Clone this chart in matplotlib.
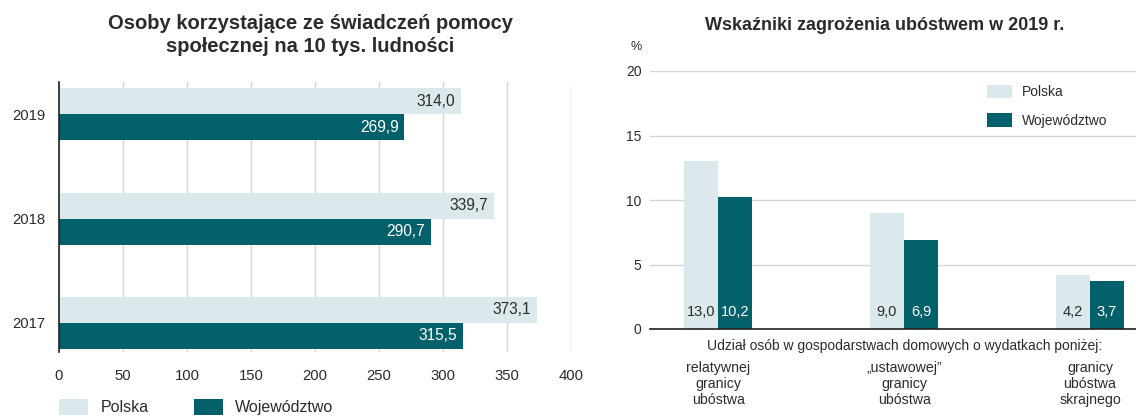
import matplotlib
matplotlib.use('Agg')
import matplotlib.pyplot as plt
from matplotlib.transforms import blended_transform_factory

plt.rcParams['font.family'] = ['Liberation Sans', 'DejaVu Sans']

# data
years = ['2017', '2018', '2019']
polska_osoby = [373.1, 339.7, 314.0]
woj_osoby = [315.5, 290.7, 269.9]

kategorie = ['relatywnej\ngranicy\nubóstwa', '„ustawowej”\ngranicy\nubóstwa', 'granicy\nubóstwa\nskrajnego']
polska_ubostwo = [13.0, 9.0, 4.2]
woj_ubostwo = [10.2, 6.9, 3.7]

c_light = '#dbe9ed'
c_dark = '#02606b'
c_grid = '#d4d4d4'
c_text = '#2b2b2b'

def fmt(v):
    return f'{v:.1f}'.replace('.', ',')

fig = plt.figure(figsize=(11.36, 4.16), dpi=100)

# left chart
ax1 = fig.add_axes([59/1136, 64/416, 512/1136, 270/416])
ypos = list(range(len(years)))
h = 0.25
b1 = ax1.barh([y + h/2 for y in ypos], polska_osoby, height=h, color=c_light, label='Polska')
b2 = ax1.barh([y - h/2 for y in ypos], woj_osoby, height=h, color=c_dark, label='Województwo')
for y, v in zip(ypos, polska_osoby):
    ax1.text(v - 4.5, y + h/2, fmt(v), ha='right', va='center', fontsize=11.2, color=c_text)
for y, v in zip(ypos, woj_osoby):
    ax1.text(v - 4.5, y - h/2, fmt(v), ha='right', va='center', fontsize=11.2, color='white')
ax1.set_xlim(0, 400)
ax1.set_ylim(-0.28, 2.31)
ax1.set_xticks(range(0, 401, 50))
ax1.set_yticks(ypos)
ax1.set_yticklabels(years)
ax1.tick_params(axis='both', length=0, labelsize=10.7, colors=c_text)
ax1.tick_params(axis='x', pad=12)
ax1.tick_params(axis='y', pad=10)
ax1.xaxis.grid(True, color=c_grid, linewidth=1)
ax1.set_axisbelow(True)
for s in ['top', 'right', 'bottom']:
    ax1.spines[s].set_visible(False)
ax1.spines['left'].set_color('#222222')
ax1.spines['left'].set_linewidth(1.2)

fig.text(310/1136, 1 - 35/416, 'Osoby korzystające ze świadczeń pomocy\nspołecznej na 10 tys. ludności',
         ha='center', va='center', fontsize=14.5, fontweight='bold', color=c_text, linespacing=1.3)

fig.legend(handles=[b1, b2], loc='upper left', bbox_to_anchor=(45/1136, 1 - 385/416), ncol=2,
           frameon=False, fontsize=11.5, handlelength=1.8, handleheight=1.1,
           handletextpad=0.8, columnspacing=2.8, labelcolor=c_text)

# right chart
ax2 = fig.add_axes([650/1136, 87/416, 486/1136, 258/416])
xpos = list(range(len(kategorie)))
w = 0.183
p1 = ax2.bar([x - w/2 for x in xpos], polska_ubostwo, width=w, color=c_light, label='Polska')
p2 = ax2.bar([x + w/2 for x in xpos], woj_ubostwo, width=w, color=c_dark, label='Województwo')
for x, v in zip(xpos, polska_ubostwo):
    ax2.text(x - w/2, 1.3, fmt(v), ha='center', va='center', fontsize=10.5, color=c_text)
for x, v in zip(xpos, woj_ubostwo):
    ax2.text(x + w/2, 1.3, fmt(v), ha='center', va='center', fontsize=10.5, color='white')
ax2.set_xlim(-0.366, 2.247)
ax2.set_ylim(0, 20)
ax2.set_yticks(range(0, 21, 5))
ax2.yaxis.grid(True, color=c_grid, linewidth=1)
ax2.set_axisbelow(True)
ax2.set_xticks([])
ax2.tick_params(axis='y', length=0, labelsize=10, colors=c_text, pad=6)
for s in ['top', 'right', 'left']:
    ax2.spines[s].set_visible(False)
ax2.spines['bottom'].set_color('#222222')
ax2.spines['bottom'].set_linewidth(1.2)

tr = blended_transform_factory(ax2.transData, fig.transFigure)
ax2.text(1, 1 - 346/416, 'Udział osób w gospodarstwach domowych o wydatkach poniżej:',
         transform=tr, ha='center', va='center', fontsize=10, color=c_text)
for x, lab in zip(xpos, kategorie):
    ax2.text(x, 1 - 361/416, lab, transform=tr, ha='center', va='top', fontsize=10.2,
             color=c_text, linespacing=1.2)

fig.text(636/1136, 1 - 47/416, '%', ha='center', va='center', fontsize=9, color=c_text)
fig.text(885/1136, 1 - 25/416, 'Wskaźniki zagrożenia ubóstwem w 2019 r.', ha='center', va='center',
         fontsize=13, fontweight='bold', color=c_text)

ax2.legend(handles=[p1, p2], loc='upper left', bbox_to_anchor=(974/1136, 1 - 72/416),
           bbox_transform=fig.transFigure, frameon=False, fontsize=10, handlelength=1.8,
           handleheight=1.15, handletextpad=0.75, labelspacing=1.0, labelcolor=c_text)

fig.savefig('out.png', dpi=100)
